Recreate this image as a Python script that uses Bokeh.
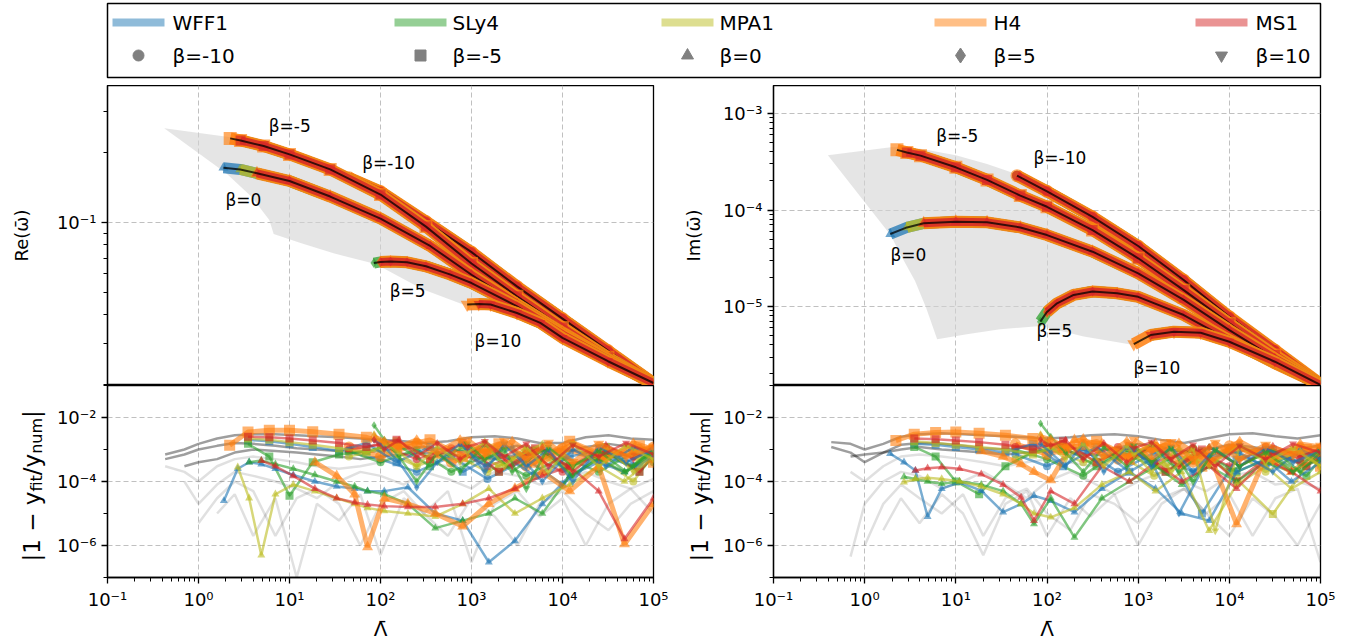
import math
from bokeh.plotting import figure
from bokeh.models import FixedTicker, CustomJSTickFormatter, Range1d
from bokeh.layouts import column, row
from bokeh.embed import file_html
from bokeh.resources import INLINE
from bokeh.core.properties import value

NaN = float("nan")

EOS = ["WFF1", "SLy4", "MPA1", "H4", "MS1"]
EOS_COLORS = ["#1f77b4", "#2ca02c", "#bcbd22", "#ff7f0e", "#d62728"]
BETA_LABELS = ["β=-10", "β=-5", "β=0", "β=5", "β=10"]
MARKERS = ["circle", "square", "triangle", "diamond", "inverted_triangle"]

# ---------------- top-left: Re(omega) vs Lambda ----------------
RE_LAM_BM10 = [45, 100, 316, 1000, 3160, 10000, 31600, 100000]
RE_VAL_BM10 = [0.156, 0.136, 0.101, 0.0745, 0.053, 0.0385, 0.0280, 0.0203]
RE_LAM_BM5 = [2.23, 2.9, 5.2, 10, 28, 100, 316, 1000, 3160, 10000, 31600, 100000]
RE_VAL_BM5 = [0.2306, 0.226, 0.2137, 0.1967, 0.1695, 0.1320, 0.0960, 0.0665, 0.0480, 0.0352, 0.0262, 0.0201]
RE_LAM_B0 = [1.88, 2.88, 4.39, 10, 28, 100, 355, 1000, 3160, 10000, 31600, 100000]
RE_VAL_B0 = [0.1723, 0.1694, 0.163, 0.151, 0.1294, 0.104, 0.079, 0.0595, 0.0445, 0.0335, 0.0258, 0.0200]
RE_LAM_B5 = [84.5, 100, 129, 196, 316, 588, 1000, 3160, 10000, 31600, 100000]
RE_VAL_B5 = [0.0668, 0.0676, 0.0679, 0.0673, 0.0647, 0.0596, 0.0548, 0.0435, 0.0329, 0.0257, 0.0204]
RE_LAM_B10 = [896, 1200, 1620, 3160, 5700, 10000, 31600, 100000]
RE_VAL_B10 = [0.0443, 0.0445, 0.0443, 0.0407, 0.0369, 0.0318, 0.0252, 0.0203]

FAN_RE_LAM = [0.42, 2.25, 10, 45, 100, 1000, 10000, 100000, 100000, 31600, 10000, 3160, 896,
              290, 108, 82, 30.5, 13.5, 6.7, 6.0, 3.8, 2.03]
FAN_RE_VAL = [0.255, 0.233, 0.200, 0.158, 0.138, 0.076, 0.039, 0.0203, 0.0200, 0.0250, 0.031, 0.0400, 0.0436,
              0.0515, 0.0634, 0.0667, 0.0736, 0.0813, 0.0893, 0.1026, 0.1295, 0.1625]

# ---------------- top-right: Im(omega) vs Lambda ----------------
IM_LAM_BM10 = [46.9, 100, 316, 1000, 3160, 10000, 31600, 100000]
IM_VAL_BM10 = [2.27e-4, 1.56e-4, 8.5e-5, 4.24e-5, 1.88e-5, 7.85e-6, 3.54e-6, 1.58e-6]
IM_LAM_BM5 = [2.26, 2.9, 4.1, 10, 22, 51, 100, 316, 1000, 3160, 10000, 31600, 100000]
IM_VAL_BM5 = [4.2e-4, 3.95e-4, 3.66e-4, 2.77e-4, 2.05e-4, 1.41e-4, 1.08e-4, 6.2e-5, 3.16e-5, 1.48e-5, 6.7e-6, 3.14e-6, 1.56e-6]
IM_LAM_B0 = [1.91, 2.91, 4.44, 10, 22, 51, 100, 316, 1000, 3160, 10000, 31600, 100000]
IM_VAL_B0 = [5.64e-5, 6.6e-5, 7.28e-5, 7.57e-5, 7.45e-5, 6.6e-5, 5.5e-5, 3.7e-5, 2.21e-5, 1.17e-5, 5.7e-6, 2.9e-6, 1.55e-6]
IM_LAM_B5 = [84.5, 100, 129, 196, 316, 588, 1000, 3160, 10000, 31600, 100000]
IM_VAL_B5 = [6.97e-6, 8.8e-6, 1.08e-5, 1.32e-5, 1.43e-5, 1.37e-5, 1.26e-5, 8.17e-6, 4.5e-6, 2.58e-6, 1.55e-6]
IM_LAM_B10 = [896, 1370, 2470, 4850, 10000, 31600, 100000]
IM_VAL_B10 = [4.08e-6, 5.07e-6, 5.49e-6, 5.36e-6, 4.32e-6, 2.68e-6, 1.54e-6]

FAN_IM_LAM = [0.395, 2.03, 4.1, 10, 22, 46.9, 100, 316, 1000, 3160, 10000, 31600, 100000,
              100000, 31600, 10000, 4850, 2470, 1370, 896, 253, 85.7, 30.6, 13.2, 6.24, 4.71, 3.56, 2.45, 1.94]
FAN_IM_VAL = [3.69e-4, 4.5e-4, 4.3e-4, 3.7e-4, 3.0e-4, 2.35e-4, 1.62e-4, 8.7e-5, 4.3e-5, 1.9e-5, 8e-6, 3.6e-6, 1.56e-6,
              1.52e-6, 2.6e-6, 4.2e-6, 5.2e-6, 5.3e-6, 4.9e-6, 4.0e-6, 4.9e-6, 6.3e-6, 5.8e-6, 5.15e-6, 4.57e-6,
              9.8e-6, 1.85e-5, 3.5e-5, 5.43e-5]

# index along each beta curve where each EOS (WFF1, SLy4, MPA1, H4, MS1) starts
START_BM10 = [0, 0, 0, 0, 0]
START_BM5 = [1, 1, 1, 0, 1]
START_B0 = [0, 2, 1, 2, 2]
START_B5 = [1, 0, 1, 1, 1]
START_B10 = [1, 1, 1, 0, 1]

# ---------------- residuals ----------------
LAM_BM10 = [45, 100, 250, 600, 1500, 4000, 10000, 25000, 60000, 100000]
LAM_BM5 = [2.2, 3.5, 6, 10, 18, 35, 70, 150, 350, 800, 2000, 5000, 12000, 30000, 70000, 100000]
LAM_B0 = [1.9, 2.7, 3.6, 4.9, 7, 11, 19, 33, 52, 72, 110, 200, 400, 800, 1550, 3000, 6000, 12000, 25000, 48000, 100000]
LAM_B5 = [85, 110, 160, 250, 420, 750, 1400, 2800, 6000, 13000, 30000, 60000, 100000]
LAM_B10 = [900, 1400, 2300, 4000, 7000, 13000, 25000, 50000, 100000]

RRE_WFF1_BM10 = [8e-4, 5e-4, 2e-4, 6e-4, 1.2e-4, 5e-4, 8e-5, 7e-4, 3e-4, 9e-4]
RRE_SLY4_BM10 = [9e-4, 4e-4, 1e-3, 2e-4, 7e-4, 1.5e-4, 6e-4, 2e-4, 8e-4, 4e-4]
RRE_MPA1_BM10 = [6e-4, 1e-3, 3e-4, 8e-4, 2e-4, 9e-4, 3e-4, 6e-4, 1e-4, 7e-4]
RRE_H4_BM10 = [1.2e-3, 6e-4, 1.5e-3, 4e-4, 1e-3, 3e-4, 1.1e-3, 5e-4, 9e-4, 1.2e-3]
RRE_MS1_BM10 = [1e-3, 1.4e-3, 5e-4, 1.1e-3, 3e-4, 8e-4, 2e-4, 1e-3, 6e-4, 1e-3]

RRE_WFF1_BM5 = [NaN, 2e-3, 1.8e-3, 1.5e-3, 1.2e-3, 9e-4, 1.6e-3, 4e-4, 1.2e-3, 2e-4, 8e-4, 1.5e-4, 6e-4, 1e-3, 3e-4, 8e-4]
RRE_SLY4_BM5 = [NaN, 1.5e-3, 6e-4, 3.6e-5, 4e-4, 7e-4, 9e-4, 1.5e-3, 3e-4, 1.2e-3, 2e-4, 9e-4, 3e-4, 8e-4, 2e-4, 6e-4]
RRE_MPA1_BM5 = [NaN, 2.2e-3, 2e-3, 1.7e-3, 1.4e-3, 1.1e-3, 8e-4, 1.8e-3, 5e-4, 1.4e-3, 3e-4, 1e-3, 2e-4, 1.2e-3, 5e-4, 1e-3]
RRE_H4_BM5 = [1.35e-3, 3.5e-3, 4e-3, 4e-3, 3.6e-3, 3e-3, 2.4e-3, 1.2e-3, 2e-3, 6e-4, 1.5e-3, 4e-4, 1.8e-3, 6e-4, 1.3e-3, 4e-4]
RRE_MS1_BM5 = [NaN, 2.5e-3, 2.4e-3, 2.2e-3, 1.9e-3, 1.6e-3, 1.2e-3, 2e-3, 5e-4, 1.6e-3, 2e-4, 1.1e-3, 3e-4, 9e-4, 2e-4, 7e-4]

RRE_WFF1_B0 = [2.5e-5, 2.5e-4, 4e-4, 3.5e-4, 2.5e-4, 1.6e-4, 1e-4, 7e-5, 6e-5, 5e-5, 5e-5, 6.6e-5, 1e-5, 6e-6, 3e-7, 1.4e-6, 2e-5, 1.5e-4, 4e-4, 2e-4, 6e-4]
RRE_SLY4_B0 = [NaN, NaN, 4e-4, 4.5e-4, 3.5e-4, 2.5e-4, 1.6e-4, 1e-4, 7e-5, 5e-5, 4e-5, 2e-5, 3.5e-6, 6e-6, 1e-5, 3e-5, 1e-5, 1.5e-4, 5e-4, 2e-4, 1e-3]
RRE_MPA1_B0 = [NaN, 2.8e-4, 3e-5, 5e-7, 4e-5, 8e-5, 5e-5, 3e-5, 2e-5, 1.5e-5, 1.2e-5, 1e-5, 8e-6, 2e-5, 6e-5, 1e-5, 3e-5, 8e-5, 3e-4, 1e-4, 6e-4]
RRE_H4_B0 = [NaN, NaN, NaN, NaN, NaN, NaN, 4e-4, 1.5e-4, 4e-5, 9e-7, 3e-5, 2e-5, 1e-5, 4e-6, 2e-5, 6e-5, 2e-4, 5e-5, 3e-4, 1.1e-6, 2e-5]
RRE_MS1_B0 = [NaN, NaN, NaN, 4.5e-4, 3e-4, 1.5e-4, 6e-5, 3e-5, 2.2e-5, 1.9e-5, 1.7e-5, 1.6e-5, 1.6e-5, 2e-5, 3e-5, 6e-5, 1.5e-4, 3e-4, 5e-5, 1.6e-6, 3e-5]

RRE_WFF1_B5 = [2e-3, 1.2e-3, 4e-4, 6.5e-5, 4e-4, 1.5e-3, 3e-4, 1.2e-3, 1e-4, 1e-3, 3e-4, 1.2e-3, 6e-4]
RRE_SLY4_B5 = [5.7e-3, 2e-3, 6e-4, 1e-4, 8e-4, 2e-4, 1.5e-3, 2e-4, 1e-3, 1.5e-4, 8e-4, 3e-4, 1e-3]
RRE_MPA1_B5 = [3e-3, 1.5e-3, 8e-4, 3e-4, 1.2e-3, 4e-4, 1.8e-3, 5e-4, 1.5e-3, 3e-4, 1.2e-3, 2e-4, 8e-4]
RRE_H4_B5 = [2.5e-3, 1.8e-3, 1.2e-3, 2e-3, 8e-4, 2e-3, 6e-4, 1.8e-3, 4e-4, 1.5e-3, 5e-4, 1.6e-3, 1e-3]
RRE_MS1_B5 = [2e-3, 1e-3, 2e-3, 6e-4, 1.6e-3, 5e-4, 1.5e-3, 3e-4, 1.2e-3, 2e-4, 1.4e-3, 5e-4, 1.2e-3]

RRE_WFF1_B10 = [1e-3, 2e-4, 1.5e-3, 3e-4, 1e-3, 1e-4, 1.2e-3, 4e-4, 1e-3]
RRE_SLY4_B10 = [1.5e-3, 5e-4, 1e-3, 6e-5, 1.2e-3, 3e-4, 9e-4, 2e-4, 8e-4]
RRE_MPA1_B10 = [8e-4, 1.6e-3, 3e-4, 1.2e-3, 2e-4, 1.5e-3, 3e-4, 1.3e-3, 5e-4]
RRE_H4_B10 = [2e-3, 8e-4, 1.8e-3, 5e-4, 1.6e-3, 4e-4, 1.5e-3, 6e-4, 1.2e-3]
RRE_MS1_B10 = [1.2e-3, 1.8e-3, 6e-4, 1.5e-3, 3e-4, 1.4e-3, 6e-4, 1.6e-3, 7e-4]

RIM_WFF1_BM10 = [7e-4, 3e-4, 1e-3, 2e-4, 8e-4, 2e-4, 1e-3, 3e-4, 8e-4, 6e-4]
RIM_SLY4_BM10 = [1e-3, 5e-4, 1.5e-4, 9e-4, 3e-4, 1.1e-3, 2e-4, 9e-4, 4e-4, 1e-3]
RIM_MPA1_BM10 = [5e-4, 1.2e-3, 4e-4, 7e-4, 1.5e-4, 6e-4, 1e-3, 2e-4, 7e-4, 3e-4]
RIM_H4_BM10 = [1.5e-3, 7e-4, 1.4e-3, 5e-4, 1.2e-3, 4e-4, 1.3e-3, 6e-4, 1.1e-3, 8e-4]
RIM_MS1_BM10 = [1.2e-3, 1.6e-3, 6e-4, 1.2e-3, 4e-4, 1e-3, 3e-4, 1.2e-3, 5e-4, 1.1e-3]

RIM_WFF1_BM5 = [NaN, 1.5e-3, 1.4e-3, 1.2e-3, 1e-3, 8e-4, 1.5e-3, 3e-4, 1.2e-3, 2e-4, 9e-4, 1e-5, 5e-4, 1e-3, 3e-4, 8e-4]
RIM_SLY4_BM5 = [NaN, 1.2e-3, 6e-4, 1e-4, 4e-5, 3e-4, 8e-4, 1.2e-3, 3e-4, 1e-3, 2e-4, 8e-4, 2e-4, 6e-4, 1.5e-4, 5e-4]
RIM_MPA1_BM5 = [NaN, 1.8e-3, 1.6e-3, 1.4e-3, 1.2e-3, 1e-3, 7e-4, 1.5e-3, 4e-4, 1.2e-3, 3e-4, 9e-4, 1.2e-4, 9.6e-6, 3e-4, 8e-4]
RIM_H4_BM5 = [1.9e-3, 3e-3, 3.4e-3, 3.5e-3, 3.2e-3, 2.8e-3, 2.2e-3, 1e-3, 1.8e-3, 5e-4, 1.4e-3, 3e-4, 1.2e-3, 5e-4, 1e-3, 3e-4]
RIM_MS1_BM5 = [NaN, 2.2e-3, 2.1e-3, 1.9e-3, 1.7e-3, 1.4e-3, 1e-3, 1.8e-3, 4e-4, 1.3e-3, 2e-4, 1e-3, 1e-4, 8e-4, 3e-4, 6e-4]

RIM_WFF1_B0 = [7.4e-4, 4e-4, 2.2e-4, 8e-6, 6e-5, 9.5e-5, 5.2e-5, 1.1e-5, 2e-5, 3.6e-5, 2.5e-5, 1.1e-5, 6e-5, 2e-4, 6e-5, 1e-5, 6e-6, 2e-4, 5e-4, 1e-4, 4e-4]
RIM_SLY4_B0 = [NaN, 1.4e-4, 1.2e-4, 1e-4, 8.5e-5, 1e-4, 8e-5, 5e-5, 2e-5, 4.7e-6, 3e-5, 1.8e-6, 3e-5, 1e-4, 3e-4, 8e-5, 3e-4, 1e-4, 4e-4, 2e-4, 5e-4]
RIM_MPA1_B0 = [NaN, 9.5e-5, 1.2e-4, 1.3e-4, 1.2e-4, 1e-4, 7e-5, 4e-5, 2e-5, 1e-5, 7.6e-6, 1.5e-5, 8e-5, 2e-4, 5e-5, 2e-4, 2.9e-6, 8e-5, 3e-4, 6e-5, 2e-4]
RIM_H4_B0 = [NaN, NaN, NaN, NaN, NaN, NaN, 9e-4, 6e-4, 3.5e-4, 2e-4, 1.1e-4, 2e-3, 1.5e-3, 6e-4, 1.5e-3, 3e-4, 8e-4, 4.7e-6, 6e-4, 2e-4, 8e-4]
RIM_MS1_B0 = [NaN, NaN, 2.2e-4, 2.6e-4, 2.8e-4, 2.5e-4, 1.7e-4, 8e-5, 3.2e-5, 6e-6, 5e-5, 2e-5, 3e-4, 1e-4, 4e-4, 1e-4, 3e-4, 6e-5, 5e-4, 2e-4, 5e-5]

RIM_WFF1_B5 = [1.5e-3, 8e-4, 3e-4, 1.5e-3, 2e-4, 1.2e-3, 4e-4, 1e-5, 6e-4, 8e-4, 2e-4, 1e-3, 5e-4]
RIM_SLY4_B5 = [6.5e-3, 2.5e-3, 8e-4, 2e-4, 1.2e-3, 3e-4, 1.5e-3, 2e-4, 1.2e-3, 3e-4, 1e-3, 2e-4, 8e-4]
RIM_MPA1_B5 = [3e-3, 1.2e-3, 5e-4, 1.5e-3, 3e-4, 1.3e-3, 2e-4, 1.1e-3, 3e-4, 1.4e-3, 4e-4, 9e-4, 3e-4]
RIM_H4_B5 = [2.5e-3, 2e-3, 1.2e-3, 2.2e-3, 6e-4, 1.8e-3, 5e-4, 1.6e-3, 4e-4, 1.8e-3, 5e-4, 1.5e-3, 1.2e-3]
RIM_MS1_B5 = [2e-3, 1.3e-3, 2e-3, 5e-4, 1.6e-3, 4e-4, 1.4e-3, 3e-4, 1.2e-3, 3e-4, 1.3e-3, 6e-4, 1.1e-3]

RIM_WFF1_B10 = [1e-3, 3e-4, 1.2e-3, 2e-4, 1e-3, 3e-4, 1.1e-3, 4e-4, 9e-4]
RIM_SLY4_B10 = [1.3e-3, 4e-4, 1.1e-3, 1e-4, 1e-3, 3e-4, 8e-4, 2e-4, 1e-3]
RIM_MPA1_B10 = [7e-4, 1.5e-3, 2e-4, 1.1e-3, 2.9e-6, 1.3e-3, 4e-4, 1.1e-3, 3e-4]
RIM_H4_B10 = [2e-3, 9e-4, 1.7e-3, 5e-4, 1.6e-3, 5e-4, 1.4e-3, 7e-4, 1.3e-3]
RIM_MS1_B10 = [1.1e-3, 1.7e-3, 5e-4, 1.4e-3, 3e-4, 1.3e-3, 5e-4, 1.5e-3, 8e-4]

GRAY_LAM = [0.43, 0.7, 1.0, 1.6, 2.5, 4, 7, 12, 20, 35, 60, 100, 180, 300, 550, 1000, 1800, 3200, 5600,
            10000, 18000, 32000, 56000, 100000]
GRAY_RE_1 = [7e-4, 1e-3, 1.5e-3, 2.2e-3, 2.8e-3, 3e-3, 3e-3, 2.8e-3, 2.6e-3, 2.4e-3, 2.2e-3, 2e-3, 1.8e-3, 1.6e-3, 1.8e-3, 2.4e-3, 2.6e-3, 2.2e-3, 1.6e-3, 1.6e-3, 2.4e-3, 2.8e-3, 2.2e-3, 2e-3]
GRAY_RE_2 = [5e-4, 7e-4, 1e-3, 1.3e-3, 1.6e-3, 1.5e-3, 1.3e-3, 1.1e-3, 1e-3, 9e-4, 8e-4, 9e-4, 1.1e-3, 1.2e-3, 1e-3, 8e-4, 1e-3, 1.3e-3, 1e-3, 8e-4, 1.2e-3, 1.5e-3, 1.2e-3, 1e-3]
GRAY_RE_3 = [3e-4, 2e-4, 1e-4, 3e-4, 5e-4, 6e-4, 5e-4, 4e-4, 3e-4, 2.5e-4, 3e-4, 4e-4, 5e-4, 4e-4, 3e-4, 4e-4, 6e-4, 5e-4, 3e-4, 2e-4, 4e-4, 6e-4, 5e-4, 4e-4]
GRAY_RE_4 = [NaN, 1e-4, 2e-5, 8e-5, 2e-4, 1.5e-4, 1e-4, 6e-5, 3e-5, 1e-4, 2e-4, 1.5e-4, 8e-5, 2e-4, 1.2e-4, 6e-5, 2e-4, 1.5e-4, 8e-5, 1e-4, 2e-4, 1e-4, 6e-5, 1.2e-4]
GRAY_RE_5 = [NaN, NaN, 5e-6, 3e-5, 1e-4, 5e-5, 2e-6, 3e-5, 6e-5, 2e-5, 1e-6, 2e-5, 5e-5, 1e-5, 2e-6, 3e-5, 8e-6, 1e-6, 2e-5, 5e-5, 1e-5, 3e-6, 2e-5, 5e-5]
GRAY_RE_6 = [NaN, 3e-4, 4e-4, 5e-4, 8e-4, 1e-3, 9e-4, 8e-4, 7e-4, 6e-4, 5e-4, 6e-4, 7e-4, 8e-4, 7e-4, 6e-4, 5e-4, 7e-4, 9e-4, 1e-3, 8e-4, 6e-4, 7e-4, 9e-4]
GRAY_RE_7 = [NaN, NaN, NaN, 1e-5, 4e-5, 2e-6, 3e-5, 1e-7, 2e-5, 6e-6, 4e-5, 5e-7, 3e-5, 1e-5, 5e-5, 3e-7, 2e-5, 5e-5, 8e-6, 3e-5, 1e-6, 2e-5, 6e-5, 1e-5]

GRAY_IM_1 = [1.7e-3, 1.5e-3, 1e-3, 1.5e-3, 2.5e-3, 3e-3, 3.2e-3, 3e-3, 2.8e-3, 2.6e-3, 2.4e-3, 2.2e-3, 2.4e-3, 2.8e-3, 3e-3, 2.6e-3, 2e-3, 1.6e-3, 2.2e-3, 3e-3, 3.2e-3, 2.6e-3, 2.2e-3, 2.8e-3]
GRAY_IM_2 = [1.2e-3, 8e-4, 4e-4, 8e-4, 1.4e-3, 1.6e-3, 1.5e-3, 1.3e-3, 1.1e-3, 1e-3, 1.2e-3, 1.4e-3, 1.2e-3, 9e-4, 1.1e-3, 1.5e-3, 1.2e-3, 8e-4, 1e-3, 1.4e-3, 1.2e-3, 9e-4, 1.1e-3, 1.3e-3]
GRAY_IM_3 = [NaN, 2e-4, 1e-4, 3e-4, 6e-4, 7e-4, 6e-4, 5e-4, 4e-4, 3e-4, 4e-4, 5e-4, 4e-4, 3e-4, 5e-4, 6e-4, 4e-4, 3e-4, 5e-4, 6e-4, 4e-4, 3e-4, 4e-4, 5e-4]
GRAY_IM_4 = [NaN, 4.5e-7, 2e-5, 1e-4, 2e-4, 1.5e-4, 6e-5, 1e-4, 2e-4, 8e-5, 3e-5, 1e-4, 2e-4, 1e-4, 4e-5, 1e-4, 2e-4, 1e-4, 5e-5, 1.5e-4, 2e-4, 8e-5, 1e-4, 6e-5]
GRAY_IM_5 = [NaN, NaN, 1e-6, 2e-5, 8e-5, 3e-5, 1e-5, 4e-5, 2e-6, 3e-5, 6e-5, 1e-5, 3e-6, 4e-5, 2e-5, 5e-6, 3e-5, 6e-5, 1e-5, 2e-6, 3e-5, 8e-6, 1e-6, 2e-5]
GRAY_IM_6 = [NaN, 6e-4, 7e-4, 8e-4, 1e-3, 1.2e-3, 1e-3, 9e-4, 8e-4, 7e-4, 8e-4, 9e-4, 8e-4, 7e-4, 6e-4, 8e-4, 1e-3, 9e-4, 7e-4, 8e-4, 1e-3, 9e-4, 8e-4, 7e-4]
GRAY_IM_7 = [NaN, NaN, NaN, 3e-6, 3e-5, 5e-6, 4e-5, 1e-5, 5e-7, 2e-5, 5e-5, 2e-6, 3e-5, 8e-6, 4e-5, 1e-6, 2e-5, 6e-5, 1e-5, 4e-5, 2e-6, 3e-5, 6e-5, 3e-7]

# ---------------- helpers ----------------
SUP_JS = r"""
const sup = {"-": "\u207b", "0": "\u2070", "1": "\u00b9", "2": "\u00b2", "3": "\u00b3",
             "4": "\u2074", "5": "\u2075", "6": "\u2076", "7": "\u2077", "8": "\u2078", "9": "\u2079"};
const e = Math.round(Math.log10(tick));
return "10" + String(e).split("").map(c => sup[c]).join("");
"""
FONT = "DejaVu Sans"


def minor_list(lo, hi):
    out = []
    for e in range(lo, hi):
        for k in range(2, 10):
            out.append(k * 10.0 ** e)
    return out


def style_axis(ax, ticks, minors):
    ax.ticker = FixedTicker(ticks=ticks, minor_ticks=minors)
    ax.formatter = CustomJSTickFormatter(code=SUP_JS)
    ax.axis_line_color = "black"
    ax.axis_line_width = 1.3
    ax.major_tick_line_color = "black"
    ax.major_tick_line_width = 1.3
    ax.minor_tick_line_color = "black"
    ax.minor_tick_line_width = 1.0
    ax.major_tick_out = 6
    ax.major_tick_in = 0
    ax.minor_tick_out = 4
    ax.minor_tick_in = 0
    ax.major_label_text_font = FONT
    ax.major_label_text_font_size = "18px"
    ax.major_label_text_color = "black"
    ax.major_label_standoff = 5
    ax.axis_label_text_font = FONT
    ax.axis_label_text_font_size = "18px"
    ax.axis_label_text_font_style = "normal"
    ax.axis_label_text_color = "black"
    ax.axis_label_standoff = 10


def base_fig(yr, fw, fh, left, right, top_panel):
    p = figure(x_axis_type="log", y_axis_type="log",
               x_range=Range1d(0.1, 1e5), y_range=Range1d(yr[0], yr[1]),
               frame_width=fw, frame_height=fh,
               x_axis_location=None if top_panel else "below",
               output_backend="svg", toolbar_location=None,
               min_border_left=left, min_border_right=right,
               min_border_top=0, min_border_bottom=0 if top_panel else 66)
    p.outline_line_color = "black"
    p.outline_line_width = 1.3
    p.outline_line_alpha = 1.0
    p.background_fill_color = "white"
    p.border_fill_color = "white"
    p.xgrid.ticker = FixedTicker(ticks=[1, 10, 100, 1000, 10000])
    for g in (p.xgrid, p.ygrid):
        g.grid_line_color = "#b0b0b0"
        g.grid_line_dash = "5 3"
        g.grid_line_width = 1
        g.grid_line_alpha = 0.8
    return p


BAND_W = [11, 11, 11, 12, 8]
BAND_A = [0.75, 0.75, 0.8, 0.85, 0.85]
MK_SIZE = [10, 10, 10, 13, 10]


def draw_top(p, lams, vals, starts, fan_x, fan_y):
    p.patch(fan_x, fan_y, fill_color="#d4d4d4", fill_alpha=0.6, line_color=None)
    for bi in range(5):
        lam, val, st = lams[bi], vals[bi], starts[bi]
        for ei in range(5):
            s = st[ei]
            p.line(lam[s:], val[s:], line_color=EOS_COLORS[ei], line_width=BAND_W[ei], line_alpha=BAND_A[ei])
            p.scatter(lam[s:], val[s:], marker=MARKERS[bi], size=MK_SIZE[ei],
                      fill_color=EOS_COLORS[ei], fill_alpha=0.65, line_color=None)
        p.line(lam, val, line_color="black", line_width=2, line_alpha=0.75)


RES_W = [2.5, 2.5, 2.5, 5, 2.5]
RES_MK = [8, 8, 8, 11, 8]


def draw_bottom(p, grids, table, grays):
    for k, g in enumerate(grays):
        dark = k in (0, 1, 5)
        p.line(GRAY_LAM, g, line_color="black", line_width=2.5, line_alpha=0.38 if dark else 0.12)
    for bi in range(5):
        for ei in range(5):
            y = table[bi][ei]
            p.line(grids[bi], y, line_color=EOS_COLORS[ei], line_width=RES_W[ei], line_alpha=0.6)
            p.scatter(grids[bi], y, marker=MARKERS[bi], size=RES_MK[ei],
                      fill_color=EOS_COLORS[ei], fill_alpha=0.6, line_color=None)


STRIP_L = 50
STRIP_R = 44


def label_fig(sw, bx):
    # narrow strip holding the rotated y-label "|1 - y_fit / y_num|" of a residual panel;
    # its frame is aligned with the 192 px tall residual frame next to it
    f = figure(width=sw, height=258, x_range=Range1d(0, sw), y_range=Range1d(0, 192),
               x_axis_location=None, y_axis_location=None, output_backend="svg",
               toolbar_location=None, min_border=0)
    f.grid.visible = False
    f.outline_line_color = None
    y0 = 16
    f.text(x=[bx, bx, bx], y=[y0, y0 + 86.3, y0 + 143.6], text=["|1 − y", "/y", "|"],
           angle=math.pi / 2, text_font=value(FONT), text_font_size="23px",
           text_baseline="alphabetic", text_align="left", text_color="black")
    f.text(x=[bx + 5, bx + 5], y=[y0 + 69.9, y0 + 107.7], text=["fit", "num"],
           angle=math.pi / 2, text_font=value(FONT), text_font_size="16px",
           text_baseline="alphabetic", text_align="left", text_color="black")
    return f


def add_beta_text(p, xs, ys):
    p.text(x=xs, y=ys, text=["β=-5", "β=-10", "β=0", "β=5", "β=10"],
           text_font=value(FONT), text_font_size="17px", text_baseline="middle",
           text_align="left", text_color="black")


X_TICKS = [0.1, 1, 10, 100, 1000, 10000, 100000]
X_MINOR = minor_list(-1, 5)

# ---------------- top-left ----------------
lt = base_fig((0.0198, 0.39), 546, 300, 107, 20, True)
style_axis(lt.yaxis[0], [0.1], [0.02, 0.03, 0.04, 0.05, 0.06, 0.07, 0.08, 0.09, 0.2, 0.3])
lt.yaxis[0].axis_label = "Re(ω̄)"
lt.yaxis[0].axis_label_standoff = 22
lt.ygrid.ticker = FixedTicker(ticks=[0.1])
draw_top(lt, [RE_LAM_BM10, RE_LAM_BM5, RE_LAM_B0, RE_LAM_B5, RE_LAM_B10],
         [RE_VAL_BM10, RE_VAL_BM5, RE_VAL_B0, RE_VAL_B5, RE_VAL_B10],
         [START_BM10, START_BM5, START_B0, START_B5, START_B10], FAN_RE_LAM, FAN_RE_VAL)
add_beta_text(lt, [5.9, 63, 1.98, 126, 1080], [0.261, 0.181, 0.1256, 0.0505, 0.0308])

# ---------------- top-right ----------------
rt = base_fig((1.52e-6, 1.95e-3), 547, 300, 100, 29, True)
style_axis(rt.yaxis[0], [1e-5, 1e-4, 1e-3], minor_list(-6, -3))
rt.yaxis[0].axis_label = "Im(ω̄)"
rt.yaxis[0].axis_label_standoff = 16
rt.ygrid.ticker = FixedTicker(ticks=[1e-5, 1e-4, 1e-3])
draw_top(rt, [IM_LAM_BM10, IM_LAM_BM5, IM_LAM_B0, IM_LAM_B5, IM_LAM_B10],
         [IM_VAL_BM10, IM_VAL_BM5, IM_VAL_B0, IM_VAL_B5, IM_VAL_B10],
         [START_BM10, START_BM5, START_B0, START_B5, START_B10], FAN_IM_LAM, FAN_IM_VAL)
add_beta_text(rt, [6.1, 71, 1.92, 76.7, 889], [5.9e-4, 3.5e-4, 3.46e-5, 5.64e-6, 2.33e-6])

# ---------------- bottom panels ----------------
GRIDS = [LAM_BM10, LAM_BM5, LAM_B0, LAM_B5, LAM_B10]
RE_TABLE = [
    [RRE_WFF1_BM10, RRE_SLY4_BM10, RRE_MPA1_BM10, RRE_H4_BM10, RRE_MS1_BM10],
    [RRE_WFF1_BM5, RRE_SLY4_BM5, RRE_MPA1_BM5, RRE_H4_BM5, RRE_MS1_BM5],
    [RRE_WFF1_B0, RRE_SLY4_B0, RRE_MPA1_B0, RRE_H4_B0, RRE_MS1_B0],
    [RRE_WFF1_B5, RRE_SLY4_B5, RRE_MPA1_B5, RRE_H4_B5, RRE_MS1_B5],
    [RRE_WFF1_B10, RRE_SLY4_B10, RRE_MPA1_B10, RRE_H4_B10, RRE_MS1_B10],
]
IM_TABLE = [
    [RIM_WFF1_BM10, RIM_SLY4_BM10, RIM_MPA1_BM10, RIM_H4_BM10, RIM_MS1_BM10],
    [RIM_WFF1_BM5, RIM_SLY4_BM5, RIM_MPA1_BM5, RIM_H4_BM5, RIM_MS1_BM5],
    [RIM_WFF1_B0, RIM_SLY4_B0, RIM_MPA1_B0, RIM_H4_B0, RIM_MS1_B0],
    [RIM_WFF1_B5, RIM_SLY4_B5, RIM_MPA1_B5, RIM_H4_B5, RIM_MS1_B5],
    [RIM_WFF1_B10, RIM_SLY4_B10, RIM_MPA1_B10, RIM_H4_B10, RIM_MS1_B10],
]

lb = base_fig((1e-7, 1e-1), 546, 192, 107 - STRIP_L, 20, False)
rb = base_fig((1e-7, 1e-1), 547, 192, 100 - STRIP_R, 29, False)
for p, table, grays in ((lb, RE_TABLE, [GRAY_RE_1, GRAY_RE_2, GRAY_RE_3, GRAY_RE_4, GRAY_RE_5, GRAY_RE_6, GRAY_RE_7]),
                        (rb, IM_TABLE, [GRAY_IM_1, GRAY_IM_2, GRAY_IM_3, GRAY_IM_4, GRAY_IM_5, GRAY_IM_6, GRAY_IM_7])):
    style_axis(p.yaxis[0], [1e-6, 1e-4, 1e-2], [1e-7, 1e-5, 1e-3, 1e-1])
    style_axis(p.xaxis[0], X_TICKS, X_MINOR)
    p.xaxis[0].axis_label = "Λ̄"
    p.xaxis[0].axis_label_text_font_size = "20px"
    p.xaxis[0].axis_label_standoff = 4
    p.ygrid.ticker = FixedTicker(ticks=[1e-6, 1e-4, 1e-2])
    draw_bottom(p, GRIDS, table, grays)

lab_l = label_fig(STRIP_L, 31)
lab_r = label_fig(STRIP_R, 26)

# ---------------- legend ----------------
leg = figure(width=1349, height=85, x_range=Range1d(0, 1349), y_range=Range1d(85, 0),
             x_axis_location=None, y_axis_location=None, output_backend="svg",
             toolbar_location=None, min_border=0)
leg.grid.visible = False
leg.outline_line_color = None
leg.quad(left=[107], right=[1320], top=[3], bottom=[77], fill_color=None,
         line_color="black", line_width=1.5)
LX = [112, 394, 661, 934, 1195]
TX = [172, 452, 719, 993, 1255]
leg.segment(x0=LX, y0=[22] * 5, x1=[x + 52 for x in LX], y1=[22] * 5,
            line_color=EOS_COLORS, line_width=8, line_alpha=0.5)
leg.text(x=TX, y=[22] * 5, text=EOS, text_font=value(FONT), text_font_size="20px",
         text_baseline="middle", text_align="left", text_color="black")
leg.scatter(x=[x + 26 for x in LX], y=[55] * 5, marker=MARKERS, size=[11, 11, 12, 15, 12], color="gray")
leg.text(x=TX, y=[55] * 5, text=BETA_LABELS, text_font=value(FONT), text_font_size="20px",
         text_baseline="middle", text_align="left", text_color="black")

layout = column(leg, row(column(lt, row(lab_l, lb)), column(rt, row(lab_r, rb))))
open("out.html", "w").write(file_html(layout, INLINE))
